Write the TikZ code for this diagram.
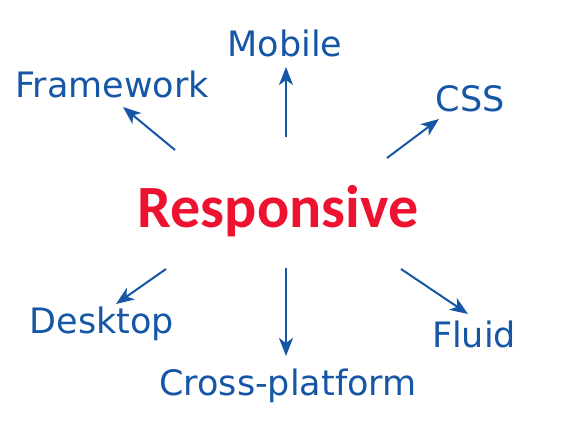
\documentclass[tikz,border=0pt]{standalone}
\usepackage{fontspec}
\setmainfont{DejaVu Sans}
\newfontfamily\respfont{Carlito}
\usetikzlibrary{arrows.meta}
\tikzset{
  lbl/.style={anchor=base, inner sep=0pt, text=blu, font=\fontsize{35}{40}\selectfont},
  arr/.style={draw=blu, line width=2pt, -{Stealth[length=18pt, width=14pt, inset=5pt]}}
}
\begin{document}
\begin{tikzpicture}[x=1pt, y=-1pt]
\definecolor{blu}{HTML}{1556A6}
\definecolor{rd}{HTML}{EE1231}
\useasboundingbox[fill=white] (0,0) rectangle (577,433);
\node[anchor=base, inner sep=0pt, text=rd, font=\respfont\bfseries\fontsize{60}{70}\selectfont] (resp) at (278,227) {Responsive};
\node[lbl] (mobile) at (285,57) {Mobile};
\node[lbl] (framework) at (112,98) {Framework};
\node[lbl] (css) at (470,111) {CSS};
\node[lbl] (desktop) at (102,333) {Desktop};
\node[lbl] (fluid) at (474,347) {Fluid};
\node[lbl] (cross) at (288,395) {Cross-platform};
\coordinate (t1) at (175,150); \coordinate (h1) at (123,107);
\coordinate (t2) at (286,137); \coordinate (h2) at (286,67);
\coordinate (t3) at (387,158); \coordinate (h3) at (439,119);
\coordinate (t4) at (166,269); \coordinate (h4) at (116,304);
\coordinate (t5) at (286,268); \coordinate (h5) at (286,356);
\coordinate (t6) at (401,269); \coordinate (h6) at (468,314);
\foreach \i in {1,...,6} \draw[arr] (t\i) -- (h\i);
\end{tikzpicture}
\end{document}
